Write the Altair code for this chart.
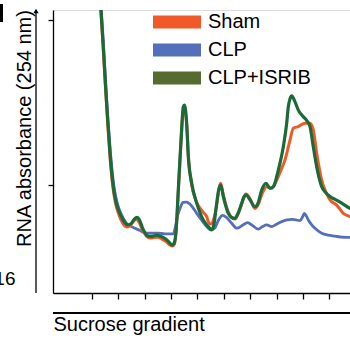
import altair as alt
import pandas as pd

# Polysome profiles: A254 along the sucrose gradient (fraction units)
series_names = ["Sham", "CLP", "CLP+ISRIB"]
line_colors = ["#F05A28", "#5470BA", "#1B6B38"]
swatch_colors = ["#F05A28", "#5470BA", "#566B30"]

sham_x = [1.288, 1.345, 1.439, 1.527, 1.598, 1.682, 1.799, 1.902, 1.996, 2.110,
          2.223, 2.337, 2.451, 2.564, 2.697, 2.792, 2.905, 3.076, 3.208, 3.360,
          3.511, 3.663, 3.814, 3.966, 4.061, 4.136, 4.193, 4.280, 4.383, 4.470,
          4.508, 4.598, 4.667, 4.788, 4.913, 5.027, 5.102, 5.216, 5.356, 5.424,
          5.519, 5.633, 5.746, 5.811, 5.886, 5.985, 6.174, 6.295, 6.428, 6.561,
          6.682, 6.769, 6.845, 6.996, 7.186, 7.299, 7.439, 7.629, 7.818, 8.008,
          8.170, 8.322, 8.511, 8.636, 8.826, 9.080, 9.269, 9.394, 9.523, 9.712,
          9.837, 10.027, 10.280, 10.530, 10.784, 11.011]
sham_y = [1.106, 1.030, 0.909, 0.788, 0.697, 0.597, 0.495, 0.445, 0.418, 0.394,
          0.379, 0.373, 0.377, 0.388, 0.397, 0.388, 0.367, 0.345, 0.339, 0.341,
          0.342, 0.336, 0.329, 0.318, 0.315, 0.321, 0.358, 0.479, 0.630, 0.727,
          0.733, 0.682, 0.582, 0.500, 0.461, 0.439, 0.430, 0.418, 0.404, 0.388,
          0.382, 0.400, 0.445, 0.485, 0.505, 0.470, 0.418, 0.402, 0.397, 0.415,
          0.442, 0.464, 0.473, 0.458, 0.429, 0.439, 0.470, 0.495, 0.490, 0.515,
          0.545, 0.576, 0.636, 0.672, 0.677, 0.687, 0.687, 0.667, 0.596, 0.515,
          0.485, 0.455, 0.439, 0.414, 0.404, 0.394]

clp_x = [1.303, 1.364, 1.458, 1.545, 1.617, 1.712, 1.845, 1.958, 2.053, 2.167,
         2.299, 2.451, 2.640, 2.830, 3.019, 3.208, 3.523, 3.777, 4.091, 4.155,
         4.250, 4.364, 4.458, 4.591, 4.686, 4.818, 4.977, 5.159, 5.356, 5.508,
         5.670, 5.803, 5.962, 6.106, 6.303, 6.492, 6.731, 6.902, 7.110, 7.311,
         7.470, 7.629, 7.818, 7.981, 8.197, 8.398, 8.576, 8.739, 8.890, 8.985,
         9.053, 9.136, 9.205, 9.326, 9.458, 9.712, 9.951, 10.216, 10.481, 10.784,
         11.011]
clp_y = [1.106, 1.030, 0.909, 0.788, 0.697, 0.597, 0.495, 0.448, 0.424, 0.403,
         0.386, 0.376, 0.369, 0.362, 0.355, 0.354, 0.354, 0.352, 0.352, 0.367,
         0.406, 0.433, 0.447, 0.448, 0.444, 0.433, 0.414, 0.394, 0.374, 0.364,
         0.370, 0.394, 0.408, 0.402, 0.384, 0.369, 0.379, 0.386, 0.376, 0.366,
         0.374, 0.379, 0.374, 0.380, 0.389, 0.394, 0.396, 0.394, 0.392, 0.403,
         0.414, 0.405, 0.394, 0.380, 0.369, 0.354, 0.348, 0.345, 0.342, 0.341,
         0.340]

isrib_x = [1.295, 1.352, 1.447, 1.534, 1.606, 1.693, 1.818, 1.920, 2.015, 2.129,
           2.261, 2.375, 2.489, 2.602, 2.716, 2.811, 2.924, 3.083, 3.208, 3.322,
           3.462, 3.587, 3.777, 3.928, 4.042, 4.117, 4.193, 4.280, 4.383, 4.470,
           4.508, 4.598, 4.659, 4.788, 4.977, 5.227, 5.417, 5.545, 5.633, 5.735,
           5.811, 5.886, 5.985, 6.174, 6.295, 6.428, 6.561, 6.682, 6.769, 6.845,
           6.996, 7.186, 7.299, 7.439, 7.602, 7.754, 7.879, 8.068, 8.258, 8.386,
           8.447, 8.511, 8.576, 8.701, 8.826, 9.015, 9.155, 9.269, 9.394, 9.523,
           9.712, 9.875, 10.027, 10.254, 10.470, 10.784, 11.011]
isrib_y = [1.106, 1.030, 0.909, 0.788, 0.697, 0.597, 0.495, 0.448, 0.424, 0.403,
           0.385, 0.379, 0.383, 0.395, 0.402, 0.394, 0.370, 0.348, 0.344, 0.345,
           0.348, 0.345, 0.338, 0.327, 0.318, 0.323, 0.358, 0.485, 0.636, 0.737,
           0.742, 0.687, 0.586, 0.505, 0.445, 0.394, 0.374, 0.364, 0.382, 0.445,
           0.485, 0.500, 0.465, 0.414, 0.402, 0.399, 0.418, 0.445, 0.464, 0.470,
           0.455, 0.434, 0.445, 0.485, 0.505, 0.490, 0.495, 0.545, 0.616, 0.687,
           0.737, 0.761, 0.770, 0.752, 0.727, 0.707, 0.694, 0.677, 0.616, 0.555,
           0.495, 0.476, 0.465, 0.455, 0.445, 0.429, 0.421]

fraction_ticks = [1, 2, 3, 4, 5, 6, 7, 8, 9, 10]
absorbance_ticks = [0.5, 1.0]

FONT = "Liberation Sans"

frames = []
for name, xs, ys in [("Sham", sham_x, sham_y), ("CLP", clp_x, clp_y),
                     ("CLP+ISRIB", isrib_x, isrib_y)]:
    frames.append(pd.DataFrame({"fraction": xs, "a254": ys, "group": name}))
profiles = pd.concat(frames, ignore_index=True)

x_enc = alt.X("fraction:Q",
              scale=alt.Scale(domain=[-0.466, 10.784], nice=False, zero=False),
              axis=alt.Axis(values=fraction_ticks, labels=False, grid=False,
                            tickSize=6, tickWidth=1.3, tickColor="black",
                            domainColor="black", domainWidth=1.3,
                            title="Sucrose gradient", titleFont=FONT,
                            titleFontSize=20, titleFontWeight="normal",
                            titleColor="black", titleAnchor="start",
                            titleAlign="left", titleBaseline="alphabetic",
                            titleX=0, titleY=37))
y_enc = alt.Y("a254:Q",
              scale=alt.Scale(domain=[0.1727, 1.0303], nice=False, zero=False),
              axis=alt.Axis(values=absorbance_ticks, labels=False, grid=False,
                            tickSize=5, tickWidth=1.3, tickColor="black",
                            domainColor="black", domainWidth=1.3,
                            title="RNA absorbance (254 nm)", titleFont=FONT,
                            titleFontSize=20, titleFontWeight="normal",
                            titleColor="black", titleAngle=270,
                            titleAlign="center", titleBaseline="alphabetic",
                            titleX=-22.5, titleY=118))

color_enc = alt.Color("group:N",
                      scale=alt.Scale(domain=series_names, range=line_colors),
                      legend=None)

base = alt.Chart(profiles)


def trace(name, width):
    return (base.transform_filter(alt.datum.group == name)
            .mark_line(interpolate="monotone", strokeWidth=width, clip=True)
            .encode(x=x_enc, y=y_enc, color=color_enc))


# Legend with wide rectangular swatches, driven by its own fill scale;
# the points carrying it are zero-sized so only the legend shows
swatch_legend = alt.Legend(
    title=None, orient="none", legendX=114, legendY=2,
    symbolType="M-4,-1.1L4,-1.1L4,1.1L-4,1.1Z", symbolSize=144,
    symbolStrokeWidth=0, symbolOpacity=1,
    labelFont=FONT, labelFontSize=20, labelColor="black",
    labelOffset=21, rowPadding=8, padding=0,
)
key = (base.mark_point(filled=True, size=0, clip=True)
       .encode(x=x_enc, y=y_enc,
               fill=alt.Fill("group:N",
                             scale=alt.Scale(domain=series_names, range=swatch_colors),
                             legend=swatch_legend)))

one = alt.Data(values=[{}])
y_arrow = alt.Chart(one).mark_rule(color="black", strokeWidth=1.3).encode(
    x=alt.value(-17), y=alt.value(283), y2=alt.value(2))
y_arrow_head = alt.Chart(one).mark_point(shape="triangle-up", filled=True,
                                         size=28, color="black", opacity=1).encode(
    x=alt.value(-17), y=alt.value(1))
x_arrow = alt.Chart(one).mark_rule(color="black", strokeWidth=2).encode(
    x=alt.value(0), x2=alt.value(300), y=alt.value(303))
side_label = alt.Chart(one).mark_text(text="16", align="right", baseline="alphabetic",
                                      font=FONT, fontSize=19, color="black").encode(
    x=alt.value(-37.5), y=alt.value(274.5))
side_bar = alt.Chart(one).mark_rule(color="black", strokeWidth=3).encode(
    x=alt.value(-51.5), y=alt.value(-6), y2=alt.value(12))

chart = alt.layer(
    key, trace("CLP", 2.8), trace("Sham", 3.0), trace("CLP+ISRIB", 3.2),
    y_arrow, y_arrow_head, x_arrow, side_label, side_bar,
).properties(
    width=297, height=283,
    autosize=alt.AutoSizeParams(type="none"),
    padding={"left": 53, "top": 10, "right": 0, "bottom": 46},
).configure_view(stroke=None).configure(background="white")

chart.save("out.html", embed_options={"renderer": "svg", "actions": False})
